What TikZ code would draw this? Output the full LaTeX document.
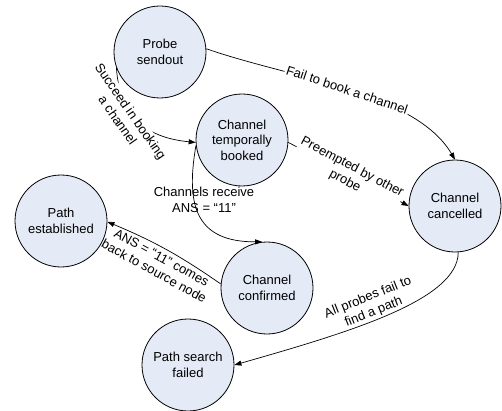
\documentclass[tikz,border=0pt]{standalone}
\usepackage{fontspec}
\setmainfont{Liberation Sans}
\usetikzlibrary{arrows.meta}
\definecolor{statefill}{RGB}{228,234,246}
\begin{document}
\begin{tikzpicture}[x=1pt, y=1pt,
        state/.style={circle, draw, line width=0.8pt, fill=statefill, minimum size=92pt,
            inner sep=0pt, align=center, font=\fontsize{13}{15.6}\selectfont},
        trans/.style={-{Triangle[length=7pt,width=5pt]}, line width=0.7pt},
        lbl/.style={font=\fontsize{13}{15.6}\selectfont, align=center, inner sep=1.5pt}]
    \useasboundingbox (0,0) rectangle (502,410);

    \node[state] (probe) at (160,358) {Probe\\sendout};
    \node[state] (booked) at (242,270) {Channel\\temporally\\booked};
    \node[state] (cancel) at (455,204) {Channel\\cancelled};
    \node[state] (estab) at (61,189) {Path\\established};
    \node[state] (confirm) at (267,122) {Channel\\confirmed};
    \node[state] (failed) at (188,45) {Path search\\failed};

    \draw[trans] (probe.4) .. controls (290,332) and (415,318) .. node[lbl, sloped, fill=white] {Fail to book a channel} (cancel.north);
    \draw[trans] (probe.200) .. controls (120,290) and (150,272) .. node[lbl, sloped, fill=white, pos=0.36, yshift=-7pt] {Succeed in booking\\a channel} (booked.183);
    \draw[trans] (booked.-3) -- node[lbl, sloped, fill=white] {Preempted by other\\probe} (cancel.west);
    \draw[trans] (booked.187) to[out=-100, in=180, looseness=1.4] node[lbl, pos=0.4, xshift=8pt, yshift=7pt] {Channels receive\\ANS = ``11''} (confirm.96);
    \draw[trans] (confirm.175) to[bend right=6] node[lbl, sloped, anchor=center, yshift=-17pt] {ANS = ``11'' comes\\back to source node} (estab.-1);
    \draw[trans] (cancel.-86) .. controls (458,110) and (350,78) .. node[lbl, sloped, above, pos=0.55] {All probes fail to\\find a path} (failed.east);% no path found
\end{tikzpicture}
\end{document}
